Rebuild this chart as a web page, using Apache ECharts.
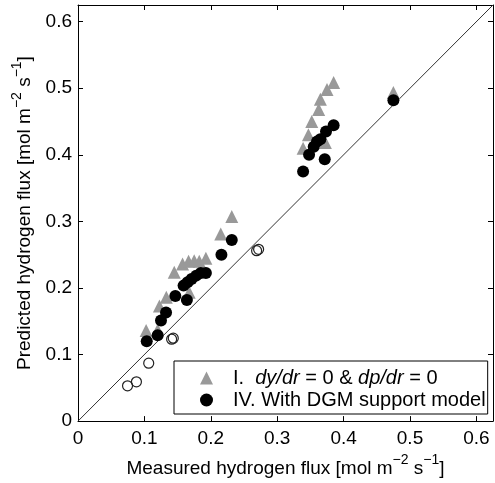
<!DOCTYPE html>
<html><head><meta charset="utf-8">
<script src="https://cdn.jsdelivr.net/npm/echarts@6/dist/echarts.min.js"></script>
<style>html,body{margin:0;padding:0;background:#fff}#c{width:495px;height:483px}</style>
</head><body><div id="c"></div>
<script>
const xTicks = [0, 0.1, 0.2, 0.3, 0.4, 0.5, 0.6];
const yTicks = [0, 0.1, 0.2, 0.3, 0.4, 0.5, 0.6];
const axisMax = 0.625;
const seriesIName = 'I.  dy/dr = 0 & dp/dr = 0';
const seriesIVName = 'IV. With DGM support model';
// Series I: dy/dr = 0 & dp/dr = 0 (grey triangles)
const seriesI = [
  [0.1026, 0.136], [0.120, 0.137], [0.1226, 0.173], [0.1330, 0.186],
  [0.145, 0.2235], [0.1575, 0.236], [0.1665, 0.240], [0.175, 0.241],
  [0.1826, 0.240], [0.1926, 0.2445], [0.1675, 0.1935], [0.215, 0.281],
  [0.2316, 0.3075],
  [0.339, 0.410], [0.347, 0.430], [0.352, 0.450], [0.3625, 0.468],
  [0.365, 0.4835], [0.375, 0.498], [0.385, 0.5085], [0.3726, 0.4185],
  [0.475, 0.4935]
];
// Series IV: With DGM support model (black circles)
const seriesIV = [
  [0.1035, 0.120], [0.120, 0.129], [0.125, 0.151], [0.1326, 0.163],
  [0.1466, 0.188], [0.164, 0.182], [0.159, 0.2035], [0.165, 0.2085],
  [0.171, 0.2135], [0.178, 0.2185], [0.185, 0.2225], [0.1926, 0.2225],
  [0.216, 0.250], [0.2316, 0.272],
  [0.339, 0.375], [0.348, 0.400], [0.355, 0.412], [0.360, 0.420],
  [0.365, 0.4235], [0.3735, 0.435], [0.385, 0.4445], [0.3716, 0.3934],
  [0.475, 0.482]
];
// Open circles (not in legend)
const openCircles = [
  [0.0746, 0.053], [0.088, 0.059], [0.1065, 0.087],
  [0.141, 0.123], [0.1435, 0.1245], [0.269, 0.256], [0.272, 0.258]
];
const parityLine = [[0, 0], [axisMax, axisMax]];

const FONT = "'Liberation Sans', Arial, Helvetica, sans-serif";
const nameRich = {
  n: {fontSize: 19, lineHeight: 19, verticalAlign: 'bottom', fontFamily: FONT, color: '#000'},
  s: {fontSize: 14, lineHeight: 14, verticalAlign: 'top', fontFamily: FONT, color: '#000'},
  sp: {fontSize: 19, lineHeight: 25, verticalAlign: 'bottom', fontFamily: FONT, color: '#000'}
};
function unitName(prefix) {
  return '{n|' + prefix + ' [mol m}{s|\u22122}{sp| }{n|s}{s|\u22121}{n|]}';
}
const lineStyleAxis = {color: '#000', width: 1};
const chart = echarts.init(document.getElementById('c'), null, {renderer: 'canvas'});
chart.setOption({
  animation: false,
  backgroundColor: '#fff',
  textStyle: {fontFamily: FONT},
  grid: {left: 78, top: 5, width: 415, height: 417},
  legend: {
    data: [seriesIName, seriesIVName],
    orient: 'vertical',
    left: 174, top: 361,
    backgroundColor: '#fff', borderColor: '#000', borderWidth: 1,
    padding: [7, 2, 4, 26],
    itemWidth: 13, itemHeight: 13, itemGap: 2,
    selectedMode: false,
    formatter: function (name) {
      if (name === seriesIName) {
        return '{f|I.  }{i|dy/dr}{n| = 0 & }{i|dp/dr}{n| = 0}';
      }
      return '{f|IV. With DGM support model}';
    },
    textStyle: {
      fontSize: 20, color: '#000', fontFamily: FONT, lineHeight: 20,
      rich: {
        f: {fontSize: 20, lineHeight: 20, fontFamily: FONT, color: '#000', padding: [0, 0, 0, 15]},
        n: {fontSize: 20, lineHeight: 20, fontFamily: FONT, color: '#000'},
        i: {fontSize: 20, lineHeight: 20, fontStyle: 'italic', fontFamily: FONT, color: '#000'}
      }
    }
  },
  xAxis: [{
    type: 'value', min: 0, max: axisMax, interval: 0.1, position: 'bottom',
    name: unitName('Measured hydrogen flux'),
    nameLocation: 'middle', nameGap: 28,
    nameTextStyle: {rich: nameRich},
    axisLine: {show: true, onZero: false, lineStyle: lineStyleAxis},
    axisTick: {show: true, inside: true, length: 5, customValues: xTicks, lineStyle: lineStyleAxis},
    axisLabel: {customValues: xTicks, fontSize: 19, color: '#000', margin: 8, fontFamily: FONT},
    splitLine: {show: false}
  }, {
    type: 'value', min: 0, max: axisMax, interval: 0.1, position: 'top',
    axisLine: {show: true, onZero: false, lineStyle: lineStyleAxis},
    axisTick: {show: true, inside: true, length: 5, customValues: xTicks, lineStyle: lineStyleAxis},
    axisLabel: {show: false},
    splitLine: {show: false}
  }],
  yAxis: [{
    type: 'value', min: 0, max: axisMax, interval: 0.1, position: 'left',
    name: unitName('Predicted hydrogen flux'),
    nameLocation: 'middle', nameGap: 33, nameRotate: 90,
    nameTextStyle: {rich: nameRich},
    axisLine: {show: true, onZero: false, lineStyle: lineStyleAxis},
    axisTick: {show: true, inside: true, length: 5, customValues: yTicks, lineStyle: lineStyleAxis},
    axisLabel: {customValues: yTicks, fontSize: 19, color: '#000', margin: 6, fontFamily: FONT},
    splitLine: {show: false}
  }, {
    type: 'value', min: 0, max: axisMax, interval: 0.1, position: 'right',
    axisLine: {show: true, onZero: false, lineStyle: lineStyleAxis},
    axisTick: {show: true, inside: true, length: 5, customValues: yTicks, lineStyle: lineStyleAxis},
    axisLabel: {show: false},
    splitLine: {show: false}
  }],
  series: [{
    type: 'line', data: parityLine, symbol: 'none', silent: true,
    lineStyle: {color: '#333', width: 1}, z: 1
  }, {
    name: 'open', type: 'scatter', data: openCircles, symbol: 'circle', symbolSize: 10,
    itemStyle: {color: 'rgba(255,255,255,0)', borderColor: '#222', borderWidth: 1.2, opacity: 1}, z: 2
  }, {
    name: seriesIName, type: 'scatter', data: seriesI, symbol: 'triangle', symbolSize: 13,
    itemStyle: {color: '#999999', opacity: 1}, z: 3
  }, {
    name: seriesIVName, type: 'scatter', data: seriesIV, symbol: 'circle', symbolSize: 12,
    itemStyle: {color: '#000000', opacity: 1}, z: 4
  }]
});
</script>
</body></html>
